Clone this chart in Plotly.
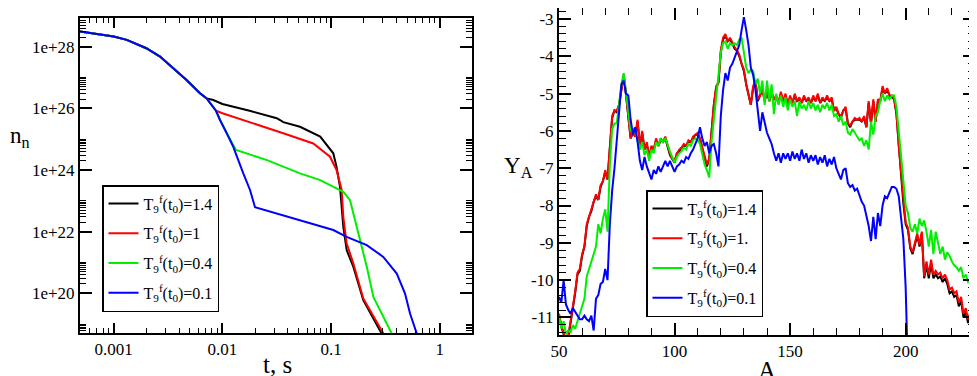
import plotly.graph_objects as go
import numpy as np

# ---------------- left panel: n_n vs t (values read as log10) ----------------
names_left = ["T<sub>9</sub><sup>f</sup>(t<sub>0</sub>)=1.4", "T<sub>9</sub><sup>f</sup>(t<sub>0</sub>)=1",
              "T<sub>9</sub><sup>f</sup>(t<sub>0</sub>)=0.4", "T<sub>9</sub><sup>f</sup>(t<sub>0</sub>)=0.1"]
names_right = ["T<sub>9</sub><sup>f</sup>(t<sub>0</sub>)=1.4", "T<sub>9</sub><sup>f</sup>(t<sub>0</sub>)=1.",
               "T<sub>9</sub><sup>f</sup>(t<sub>0</sub>)=0.4", "T<sub>9</sub><sup>f</sup>(t<sub>0</sub>)=0.1"]
colors = ["#000000", "#ff0000", "#00ee00", "#0000ff"]

# shared early part of all curves
logt_common = [-3.31, -3.0, -2.88, -2.70, -2.574, -2.45, -2.33, -2.206, -2.145]
logn_common = [28.49, 28.33, 28.22, 27.95, 27.68, 27.30, 26.92, 26.49, 26.32]

logt_black = [-2.084, -2.0, -1.75, -1.50, -1.47, -1.44, -1.286, -1.10, -0.98, -0.95, -0.918,
              -0.903, -0.888, -0.857, -0.796, -0.704, -0.535]
logn_black = [26.27, 26.14, 25.92, 25.68, 25.62, 25.55, 25.40, 25.08, 24.54, 24.10, 23.45,
              22.81, 22.16, 21.40, 20.86, 19.78, 18.69]

logt_red = [-2.059, -2.0, -1.44, -1.164, -1.01, -0.95, -0.903, -0.888, -0.857, -0.796, -0.704, -0.519]
logn_red = [25.92, 25.84, 25.19, 24.86, 24.43, 24.0, 23.35, 22.48, 21.62, 20.97, 19.83, 18.69]

logt_green = [-2.059, -2.022, -1.96, -1.875, -1.59, -1.286, -1.10, -0.98, -0.888, -0.826, -0.734,
              -0.672, -0.611, -0.442]
logn_green = [25.92, 25.62, 25.19, 24.65, 24.32, 23.89, 23.67, 23.45, 23.29, 23.02, 21.72,
              20.86, 19.88, 18.69]

logt_blue = [-2.059, -2.022, -1.96, -1.90, -1.808, -1.746, -1.70, -1.592, -1.286, -0.98, -0.857,
             -0.672, -0.52, -0.396, -0.32, -0.274, -0.212]
logn_blue = [25.92, 25.62, 25.19, 24.75, 23.89, 23.35, 22.79, 22.68, 22.37, 22.05, 21.83,
             21.56, 21.18, 20.64, 19.99, 19.34, 18.69]

# ---------------- right panel: Y_A vs A ----------------
A = list(range(50, 231))

y_black = [
    -10.95, -11.25, -11.45, -11.6, -11.55, -11.15, -10.85, -10.35, -9.85, -9.75,
    -9.35, -9.1, -8.55, -8.3, -8.15, -7.9, -7.75, -7.85, -7.5, -7.35,
    -7.1, -7.3, -6.45, -5.65, -5.45, -5.5, -5.3, -4.95, -4.5, -5.05,
    -5.65, -6.2, -6.05, -6.15, -5.75, -6.4, -6.05, -6.5, -6.35, -6.7,
    -6.45, -6.5, -6.25, -6.4, -6.25, -6.3, -6.2, -6.4, -6.65, -6.75,
    -6.85, -6.6, -6.55, -6.45, -6.4, -6.4, -6.3, -6.3, -6.2, -6.1,
    -6.1, -6.2, -6.5, -6.7, -6.95, -6.75, -5.95, -5.3, -4.85, -4.7,
    -3.9, -3.55, -3.45, -3.6, -3.55, -3.65, -3.8, -3.85, -4.0, -4.2,
    -4.4, -4.75, -5.05, -5.3, -4.85, -4.65, -5.2, -5.05, -4.9, -5.2,
    -4.95, -5.2, -5.0, -5.15, -5.1, -5.25, -5.0, -5.2, -5.05, -5.3,
    -5.1, -5.25, -5.05, -5.2, -5.15, -5.25, -5.1, -5.2, -5.15, -5.25,
    -5.1, -5.2, -5.05, -5.25, -5.15, -5.2, -5.1, -5.2, -5.15, -5.45,
    -5.4, -5.55, -5.65, -5.45, -5.4, -5.8, -5.9, -5.75, -5.7, -5.7,
    -5.7, -5.75, -5.65, -5.9, -5.25, -5.8, -5.2, -5.75, -5.2, -5.2,
    -4.85, -5.0, -4.9, -5.05, -5.1, -5.15, -5.55, -6.45, -7.15, -7.95,
    -8.5, -8.65, -9.15, -9.3, -9.05, -8.8, -9.1, -8.75, -9.95, -9.6,
    -9.95, -9.55, -9.95, -9.85, -9.95, -9.9, -10.05, -9.95, -10.1, -10.35,
    -10.3, -10.45, -10.4, -10.7, -10.55, -11.0, -10.85, -11.15, -10.95, -11.3,
    -11.05]

y_red = [
    -10.9, -11.2, -11.4, -11.6, -11.5, -11.1, -10.8, -10.3, -9.8, -9.7,
    -9.3, -9.1, -8.5, -8.3, -8.1, -7.9, -7.7, -7.85, -7.45, -7.35,
    -7.05, -7.3, -6.4, -5.6, -5.45, -5.45, -5.3, -4.9, -4.5, -5.0,
    -5.6, -6.2, -6.0, -6.15, -5.7, -6.4, -6.0, -6.5, -6.3, -6.7,
    -6.4, -6.5, -6.2, -6.4, -6.2, -6.3, -6.15, -6.4, -6.6, -6.75,
    -6.8, -6.6, -6.5, -6.45, -6.35, -6.4, -6.25, -6.3, -6.15, -6.1,
    -6.05, -6.2, -6.45, -6.7, -6.9, -6.75, -5.9, -5.3, -4.8, -4.7,
    -3.85, -3.5, -3.4, -3.6, -3.5, -3.65, -3.75, -3.85, -3.95, -4.2,
    -4.35, -4.75, -5.0, -5.3, -4.8, -4.65, -5.15, -5.05, -4.85, -5.2,
    -4.9, -5.2, -4.95, -5.15, -5.05, -5.25, -4.95, -5.2, -5.0, -5.3,
    -5.05, -5.25, -5.0, -5.2, -5.1, -5.25, -5.05, -5.2, -5.1, -5.25,
    -5.05, -5.2, -5.0, -5.25, -5.1, -5.2, -5.05, -5.2, -5.1, -5.45,
    -5.35, -5.55, -5.6, -5.45, -5.35, -5.8, -5.85, -5.75, -5.65, -5.7,
    -5.65, -5.75, -5.6, -5.9, -5.2, -5.8, -5.15, -5.75, -5.15, -5.2,
    -4.8, -5.0, -4.85, -5.05, -5.05, -5.15, -5.5, -6.4, -7.1, -7.9,
    -8.45, -8.6, -9.1, -9.25, -9.0, -8.75, -9.05, -8.7, -9.9, -9.5,
    -9.85, -9.45, -9.85, -9.75, -9.85, -9.8, -9.95, -9.85, -10.0, -10.25,
    -10.2, -10.35, -10.3, -10.6, -10.45, -10.9, -10.75, -11.05, -10.85, -11.2,
    -10.95]

y_green = [
    -10.95, -11.3, -11.1, -11.45, -11.35, -11.4, -11.2, -11.3, -11.1, -10.9,
    -10.75, -10.5, -9.9, -9.7, -9.55, -9.3, -9.1, -8.5, -8.75, -8.35,
    -8.1, -8.7, -6.9, -5.95, -5.8, -5.8, -5.3, -4.75, -4.45, -5.0,
    -5.6, -6.0, -5.95, -6.05, -6.25, -6.5, -6.3, -6.65, -6.5, -6.8,
    -6.5, -6.6, -6.3, -6.4, -6.2, -6.3, -6.2, -6.4, -6.55, -6.7,
    -6.85, -6.7, -6.6, -6.55, -6.45, -6.5, -6.35, -6.4, -6.25, -6.2,
    -6.25, -6.35, -6.6, -6.9, -7.05, -7.25, -6.3, -5.7, -5.1, -4.5,
    -3.9, -3.65, -3.6, -3.8, -3.65, -3.7, -3.65, -3.7, -3.55, -3.5,
    -3.9, -4.3, -4.45, -4.35, -4.4, -4.75, -4.6, -5.0, -4.65, -5.3,
    -4.65, -5.2, -4.75, -5.55, -5.0, -5.3, -5.05, -5.35, -5.1, -5.45,
    -5.15, -5.35, -5.2, -5.6, -5.2, -5.4, -5.3, -5.45, -5.2, -5.4,
    -5.25, -5.45, -5.3, -5.5, -5.3, -5.4, -5.25, -5.45, -5.3, -5.6,
    -5.55, -5.75, -5.6, -5.85, -5.75, -6.05, -6.1, -5.95, -6.05, -6.15,
    -6.25, -6.2, -6.4, -6.25, -6.5, -5.75, -6.1, -5.6, -5.5, -5.2,
    -5.0, -5.2, -5.05, -5.15, -5.05, -5.05, -5.35, -6.0, -6.7, -7.4,
    -8.0, -8.2, -8.6, -8.7, -8.5, -8.75, -8.35, -8.55, -8.4, -8.7,
    -9.1, -8.65, -9.3, -8.7, -9.0, -9.3, -9.1, -9.45, -9.25, -9.35,
    -9.5, -9.6, -9.65, -9.75, -9.65, -9.95, -9.85, -10.05, -10.0, -10.35,
    -10.1]

y_blue = [
    -10.45, -10.6, -10.0, -10.65, -10.8, -10.9, -10.75, -10.85, -10.95, -11.05,
    -11.05, -10.95, -11.05, -11.1, -10.95, -11.35, -10.5, -10.4, -10.1, -10.05,
    -9.7, -10.0, -8.5, -7.6, -7.0, -6.3, -5.4, -4.75, -4.65, -5.0,
    -5.05, -5.7, -6.1, -5.9, -6.3, -6.8, -7.05, -6.7, -6.95, -7.15,
    -7.3, -7.05, -7.15, -6.95, -7.1, -6.95, -6.8, -6.95, -6.8, -6.95,
    -7.1, -6.95, -6.9, -6.8, -6.85, -6.7, -6.75, -6.6, -6.5, -6.35,
    -6.2, -5.9, -6.2, -6.4, -6.3, -6.6, -6.4, -6.35, -6.6, -6.95,
    -5.6, -4.9, -4.45, -4.65, -4.3, -4.2, -4.05, -3.85, -3.7, -3.3,
    -2.95, -3.3, -3.7, -4.3, -4.5, -4.9, -5.4, -6.0, -5.5, -5.8,
    -6.05, -6.2, -6.35, -6.6, -6.8, -6.6, -6.85, -6.6, -6.75, -6.6,
    -6.8, -6.55, -6.75, -6.6, -6.8, -6.5, -6.75, -6.6, -6.85, -6.65,
    -6.8, -6.65, -6.9, -6.7, -6.85, -6.65, -6.95, -6.75, -6.9, -6.7,
    -7.0, -7.15, -7.3, -7.05, -7.0, -7.4, -7.5, -7.45, -7.6, -7.55,
    -7.75, -7.9, -8.0, -8.3, -8.55, -8.95, -8.3, -8.9, -8.2, -8.55,
    -8.0, -7.75, -7.8, -7.65, -7.5, -7.5, -7.55, -7.75, -8.3, -8.9,
    -10.2, -12.5]

# tick labels
xt_left = [0.001, 0.01, 0.1, 1]
xt_left_text = ["0.001", "0.01", "0.1", "1"]
yt_left = [1e20, 1e22, 1e24, 1e26, 1e28]
yt_left_text = ["1e+20", "1e+22", "1e+24", "1e+26", "1e+28"]
xt_right = [50, 100, 150, 200]
yt_right = [-11, -10, -9, -8, -7, -6, -5, -4, -3]
yt_right_text = [str(v) for v in yt_right]

FONT = "Liberation Serif"

fig = go.Figure()

left_sets = [(logt_black, logn_black), (logt_red, logn_red), (logt_green, logn_green), (logt_blue, logn_blue)]
for i, ((lt, ln), name, col) in enumerate(zip(left_sets, names_left, colors)):
    tx = 10 ** np.array(logt_common + lt)
    ny = 10 ** np.array(logn_common + ln)
    fig.add_trace(go.Scatter(x=tx, y=ny, mode="lines", name=name, line=dict(color=col, width=2),
                             xaxis="x", yaxis="y", legend="legend", legendgroup=f"l{i}"))

right_sets = [y_black, y_red, y_green, y_blue]
for i, (ys, name, col) in enumerate(zip(right_sets, names_right, colors)):
    fig.add_trace(go.Scatter(x=A[:len(ys)], y=ys, mode="lines", name=name, line=dict(color=col, width=2),
                             xaxis="x2", yaxis="y2", legend="legend2", legendgroup=f"r{i}"))

# the page body has an 8px margin, so the figure is 8px smaller and positions are shifted
OFF = 8
W, H = 977 - OFF, 376 - OFF
def px_x(p):
    return (p - OFF) / W
def px_y(p):
    return (H - (p - OFF)) / H

minor_x_left = [k * 10.0 ** e for e in range(-4, 1) for k in range(2, 10)]
minor_y_left = [k * 10.0 ** e for e in (18, 20, 22, 24, 26, 28) for k in range(2, 11)]

axis_common = dict(showline=True, linecolor="black", linewidth=2, mirror="allticks", ticks="inside",
                   tickcolor="black", tickwidth=1.5, showgrid=False, zeroline=False, automargin=False,
                   tickfont=dict(family=FONT, size=17, color="black"))

legend_common = dict(xanchor="left", yanchor="top", bgcolor="white", bordercolor="black",
                     borderwidth=1.5, itemwidth=30, tracegroupgap=6,
                     font=dict(family=FONT, size=16, color="black"))

fig.update_layout(
    width=W, height=H, margin=dict(l=0, r=0, t=0, b=0),
    paper_bgcolor="white", plot_bgcolor="white",
    xaxis=dict(domain=[px_x(80), px_x(472)], anchor="y", type="log", range=[-3.31, 0.296],
               tickvals=xt_left, ticktext=xt_left_text, ticklen=10,
               minor=dict(tickmode="array", tickvals=minor_x_left, ticks="inside", ticklen=5,
                          tickcolor="black", tickwidth=1), **axis_common),
    yaxis=dict(domain=[px_y(333), px_y(18)], anchor="x", type="log", range=[18.71, 28.93],
               tickvals=yt_left, ticktext=yt_left_text, ticklen=12,
               minor=dict(tickmode="array", tickvals=minor_y_left, ticks="inside", ticklen=6,
                          tickcolor="black", tickwidth=1), **axis_common),
    xaxis2=dict(domain=[px_x(559), px_x(975)], anchor="y2", range=[50, 230],
                tickvals=xt_right, ticklen=12,
                minor=dict(tickmode="linear", tick0=0, dtick=10, ticks="inside", ticklen=7,
                           tickcolor="black", tickwidth=1), **axis_common),
    # top edge clamped to the page offset; range top set to keep the reference scale
    yaxis2=dict(domain=[px_y(335), 1.0], anchor="x2", range=[-11.47, -2.705],
                tickvals=yt_right, ticktext=yt_right_text, ticklen=12,
                minor=dict(tickmode="linear", tick0=0, dtick=0.2, ticks="inside", ticklen=7,
                           tickcolor="black", tickwidth=1), **axis_common),
    legend=dict(x=px_x(102), y=px_y(185), **legend_common),
    legend2=dict(x=px_x(646), y=px_y(190), **legend_common),
    showlegend=True,
)

ann_font = dict(family=FONT, size=25, color="black")
fig.add_annotation(text="t, s", xref="paper", yref="paper", x=px_x(277), y=px_y(364),
                   xanchor="center", yanchor="middle", showarrow=False, font=ann_font)
fig.add_annotation(text="A", xref="paper", yref="paper", x=px_x(767), y=px_y(370),
                   xanchor="center", yanchor="middle", showarrow=False, font=ann_font)
fig.add_annotation(text="n<sub>n</sub>", xref="paper", yref="paper", x=px_x(8), y=px_y(137),
                   xanchor="left", yanchor="middle", showarrow=False, font=dict(family=FONT, size=23, color="black"))
fig.add_annotation(text="Y<sub>A</sub>", xref="paper", yref="paper", x=px_x(502), y=px_y(167),
                   xanchor="left", yanchor="middle", showarrow=False, font=dict(family=FONT, size=23, color="black"))

fig.write_html("out.html")
